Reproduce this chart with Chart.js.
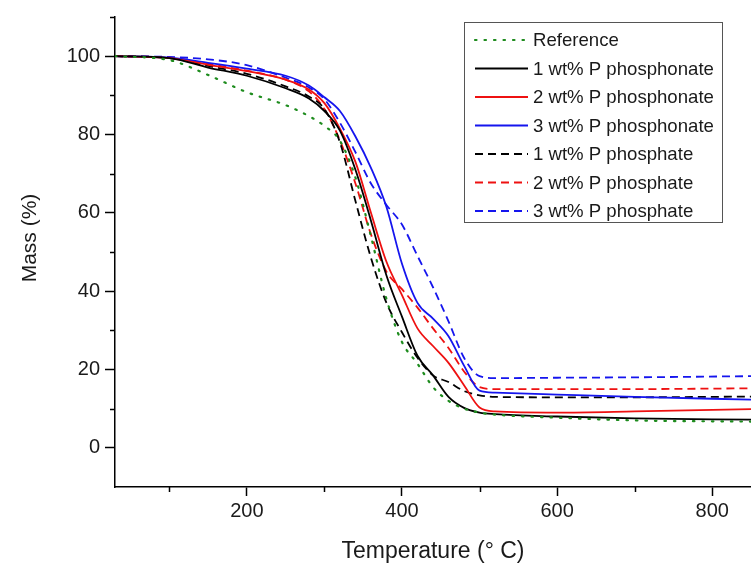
<!DOCTYPE html>
<html>
<head>
<meta charset="utf-8">
<script src="https://cdn.jsdelivr.net/npm/chart.js@4.4.1/dist/chart.umd.min.js"></script>
<style>
  html, body { margin: 0; padding: 0; background: #fff; }
  #wrap { width: 751px; height: 565px; }
</style>
</head>
<body>
<div id="wrap"><canvas id="tga" width="751" height="565"></canvas></div>
<script>
// TGA curves, mass (%) vs temperature (deg C)
const temps = [30, 100, 150, 200, 250, 280, 300, 320, 340, 360, 380, 400, 420, 440, 460, 480, 500, 520, 600, 700, 850];

const reference  = [100, 99.0, 95.2, 90.8, 87.5, 84.7, 82.2, 78.4, 69, 54, 38, 27, 21.5, 15.5, 12, 10, 9, 8.5, 7.7, 7, 6.7];
const phon1 = [100, 99.5, 97.1, 95, 91.8, 89.2, 86, 81, 71, 58, 44, 33.5, 23.5, 18.5, 13, 10.2, 9, 8.6, 8, 7.5, 7.2];
const phon2 = [100, 99.5, 97.8, 96.2, 94, 91.5, 88, 81.5, 73, 60, 47.5, 39, 30.5, 26, 21.7, 16, 10.3, 9.3, 9, 9.3, 9.9];
const phon3 = [100, 99.6, 98.3, 96.8, 95, 92.5, 89.5, 86, 79.5, 71.5, 61.5, 47, 37, 33, 28.5, 21, 14.6, 14.1, 13.6, 13, 12.3];
const phos1 = [100, 99.5, 97.5, 95.5, 92.3, 89.7, 86.5, 78, 63, 48.5, 37, 29.5, 23, 18.5, 16.8, 14.5, 13.4, 13, 12.9, 12.9, 13.1];
const phos2 = [100, 99.6, 98, 96.3, 94, 91, 86.5, 78.5, 67.5, 54.5, 45, 40.5, 35.8, 30.5, 25.5, 19.5, 15.5, 15, 15, 15, 15.2];
const phos3 = [100, 99.8, 99.2, 97.7, 94.5, 92, 89, 83, 75.5, 67.5, 62, 57, 49, 41, 32.3, 23, 18.3, 17.8, 17.9, 18, 18.3];

const seriesNames = ['Reference', '1 wt% P phosphonate', '2 wt% P phosphonate', '3 wt% P phosphonate',
                     '1 wt% P phosphate', '2 wt% P phosphate', '3 wt% P phosphate'];

// axis ticks: every 100 / 10, labels only on every other one
const xTickValues = [100, 200, 300, 400, 500, 600, 700, 800];
const yTickValues = [-10, 0, 10, 20, 30, 40, 50, 60, 70, 80, 90, 100, 110];

const FONT = "'Liberation Sans', Arial, sans-serif";
const GREEN = '#1e8c1e', RED = '#ee1111', BLUE = '#1515ee';

function pts(vals) { return temps.map((t, i) => ({ x: t, y: vals[i] })); }

function ds(label, vals, color, dash, width) {
  return {
    label: label,
    data: pts(vals),
    borderColor: color,
    backgroundColor: color,
    borderWidth: width || 1.8,
    borderDash: dash || [],
    pointRadius: 0,
    fill: false,
    cubicInterpolationMode: 'monotone'
  };
}

const isMajorX = v => v % 200 === 0;
const isMajorY = v => v % 20 === 0 && v >= 0 && v <= 100;

// short minor ticks (major ones come from chart.js grid) + y title
const axisExtras = {
  id: 'axisExtras',
  afterDraw(chart) {
    const c = chart.ctx, xs = chart.scales.x, ys = chart.scales.y;
    c.save();
    c.strokeStyle = '#000';
    c.lineWidth = 1.5;
    c.beginPath();
    xs.ticks.forEach(t => {
      if (!isMajorX(t.value)) {
        const px = Math.round(xs.getPixelForValue(t.value)) + 0.5;
        c.moveTo(px, xs.top); c.lineTo(px, xs.top + 5);
      }
    });
    ys.ticks.forEach(t => {
      if (!isMajorY(t.value) && t.value > -10) {
        const py = Math.round(ys.getPixelForValue(t.value)) + 0.5;
        c.moveTo(ys.right, py); c.lineTo(ys.right - 5, py);
      }
    });
    c.stroke();
    // y axis title, sits a bit above the middle of the axis
    c.translate(30, (ys.top + ys.bottom) / 2 - 14);
    c.rotate(-Math.PI / 2);
    c.font = '21px ' + FONT;
    c.fillStyle = '#1a1a1a';
    c.textAlign = 'center';
    c.textBaseline = 'middle';
    c.fillText('Mass (%)', 0, 0);
    c.restore();
  }
};

// legend box inside the plot, top right
const boxLegend = {
  id: 'boxLegend',
  afterDraw(chart) {
    const c = chart.ctx;
    const bx = 464, by = 22, bw = 258, bh = 200, row = 28.5;
    c.save();
    c.fillStyle = '#fff';
    c.fillRect(bx, by, bw, bh);
    c.strokeStyle = '#555';
    c.lineWidth = 1;
    c.strokeRect(bx + 0.5, by + 0.5, bw, bh);
    c.font = '18.6px ' + FONT;
    c.textBaseline = 'middle';
    chart.data.datasets.forEach((d, i) => {
      const yy = by + 18 + i * row;
      c.beginPath();
      c.strokeStyle = d.borderColor;
      c.lineWidth = d.borderWidth;
      c.setLineDash(d.borderDash);
      c.lineCap = d.borderCapStyle || 'butt';
      c.moveTo(bx + 11, yy); c.lineTo(bx + 64, yy);
      c.stroke();
      c.setLineDash([]);
      c.fillStyle = '#1a1a1a';
      c.fillText(d.label, bx + 69, yy + 1);
    });
    c.restore();
  }
};

const refSet = ds(seriesNames[0], reference, GREEN, [1.5, 8], 2.2);
refSet.borderCapStyle = 'round';

new Chart(document.getElementById('tga'), {
  type: 'line',
  data: {
    datasets: [
      refSet,
      ds(seriesNames[1], phon1, '#000'),
      ds(seriesNames[2], phon2, RED),
      ds(seriesNames[3], phon3, BLUE),
      ds(seriesNames[4], phos1, '#000', [8, 5]),
      ds(seriesNames[5], phos2, RED, [8, 5]),
      ds(seriesNames[6], phos3, BLUE, [8, 5])
    ]
  },
  options: {
    responsive: false,
    animation: false,
    devicePixelRatio: 1,
    layout: { padding: { top: 17, left: 0, right: 0, bottom: 0 } },
    plugins: { legend: { display: false }, tooltip: { enabled: false } },
    scales: {
      x: {
        type: 'linear',
        min: 30, max: 850,
        afterBuildTicks: s => { s.ticks = xTickValues.map(v => ({ value: v })); },
        afterFit: s => { s.height = 78; },
        ticks: {
          padding: 3,
          color: '#1a1a1a',
          font: { family: FONT, size: 20 },
          maxRotation: 0,
          autoSkip: false,
          callback: v => (isMajorX(v) ? v : '')
        },
        grid: {
          drawOnChartArea: false,
          drawTicks: true,
          tickLength: 9,
          tickWidth: 1.5,
          tickColor: ctx => (ctx.tick && isMajorX(ctx.tick.value) ? '#000' : 'rgba(0,0,0,0)')
        },
        border: { color: '#000', width: 1.5 },
        title: {
          display: true,
          text: 'Temperature (° C)',
          color: '#1a1a1a',
          font: { family: FONT, size: 23 },
          padding: { top: 3, bottom: 0 }
        }
      },
      y: {
        min: -10, max: 110,
        afterBuildTicks: s => { s.ticks = yTickValues.map(v => ({ value: v })); },
        afterFit: s => { s.width = 115; },
        ticks: {
          padding: 5,
          color: '#1a1a1a',
          font: { family: FONT, size: 20 },
          autoSkip: false,
          callback: v => (isMajorY(v) ? v : '')
        },
        grid: {
          drawOnChartArea: false,
          drawTicks: true,
          tickLength: 10,
          tickWidth: 1.5,
          tickColor: ctx => (ctx.tick && isMajorY(ctx.tick.value) ? '#000' : 'rgba(0,0,0,0)')
        },
        border: { color: '#000', width: 1.5 },
        title: { display: false }
      }
    }
  },
  plugins: [axisExtras, boxLegend]
});
</script>
</body>
</html>
